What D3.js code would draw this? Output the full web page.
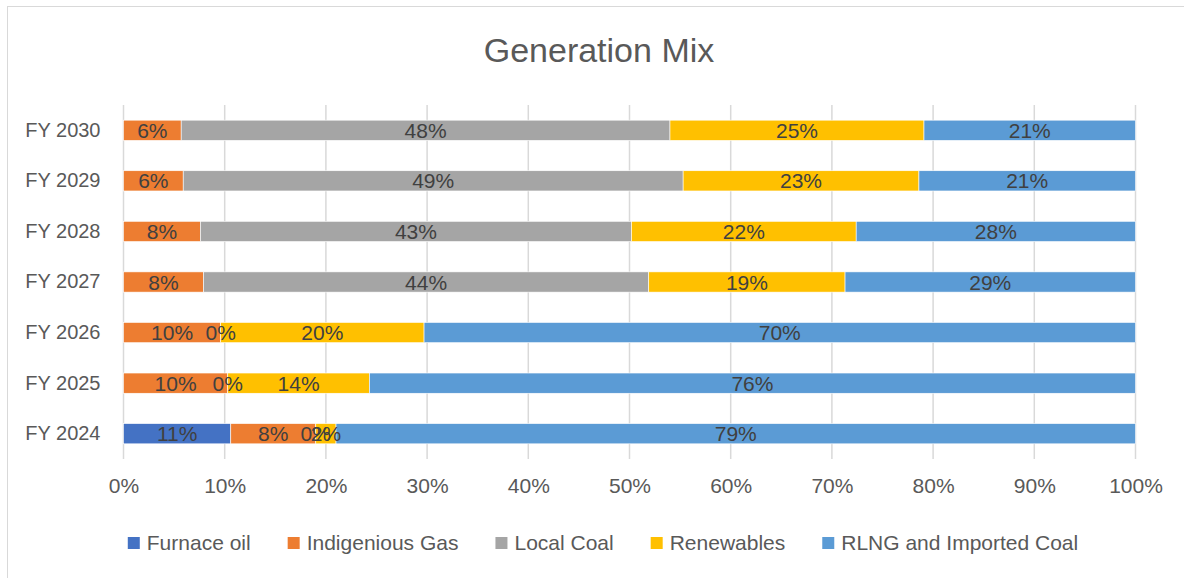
<!DOCTYPE html>
<html>
<head>
<meta charset="utf-8">
<script src="https://cdn.jsdelivr.net/npm/d3@7"></script>
<style>
  body { margin: 0; background: #fff; }
  svg { display: block; font-family: "Liberation Sans", Arial, sans-serif; }
</style>
</head>
<body>
<svg id="chart" width="1184" height="578"></svg>
<script>
// categories, bottom to top as in the picture
const years = ["FY 2024", "FY 2025", "FY 2026", "FY 2027", "FY 2028", "FY 2029", "FY 2030"];
const seriesNames = ["Furnace oil", "Indigenious Gas", "Local Coal", "Renewables", "RLNG and Imported Coal"];
const seriesColors = ["#4472C4", "#ED7D31", "#A5A5A5", "#FFC000", "#5B9BD5"];

// share of generation (%) per year
const furnaceOil     = [10.6, null, null, null, null, null, null];
const indigenousGas  = [8.4, 10.3, 9.6, 7.9, 7.6, 5.9, 5.7];
const localCoal      = [0, 0, 0, 44.0, 42.6, 49.4, 48.3];
const renewables     = [2.0, 14.0, 20.1, 19.4, 22.2, 23.3, 25.1];
const rlngImported   = [79.0, 75.7, 70.3, 28.7, 27.6, 21.4, 20.9];

const tickValues = [0, 0.1, 0.2, 0.3, 0.4, 0.5, 0.6, 0.7, 0.8, 0.9, 1];

const seriesValues = [furnaceOil, indigenousGas, localCoal, renewables, rlngImported];

const svg = d3.select("#chart");
const width = 1184, height = 578;

// chart border
svg.append("rect")
  .attr("x", 7.5).attr("y", 6.5)
  .attr("width", width).attr("height", height)
  .attr("fill", "none")
  .attr("stroke", "#d9d9d9")
  .attr("stroke-width", 1);

// title
svg.append("text")
  .attr("x", 599).attr("y", 62)
  .attr("text-anchor", "middle")
  .attr("fill", "#595959")
  .style("font-size", "34px")
  .text("Generation Mix");

// build rows: one per year, 100% stacked
const rows = years.map((y, i) => {
  const row = {year: y};
  seriesNames.forEach((s, j) => row[s] = seriesValues[j][i]);
  return row;
});

const x = d3.scaleLinear().domain([0, 1]).range([123.5, 1135.5]);
const yScale = d3.scaleBand()
  .domain(years.slice().reverse())
  .range([105, 459])
  .paddingInner(0.6)
  .paddingOuter(0.3);

// vertical gridlines
svg.append("g")
  .selectAll("line")
  .data(tickValues)
  .join("line")
    .attr("x1", d => x(d)).attr("x2", d => x(d))
    .attr("y1", 105).attr("y2", 459)
    .attr("stroke", "#d9d9d9")
    .attr("stroke-width", 1.5);

// x axis labels
const xAxis = svg.append("g")
  .attr("transform", "translate(0, 459)")
  .call(d3.axisBottom(x).tickValues(tickValues).tickFormat(d3.format(".0%")).tickSize(0).tickPadding(19));
xAxis.select(".domain").remove();
xAxis.selectAll("text")
  .attr("fill", "#595959")
  .style("font-size", "21px")
  .style("font-family", "Liberation Sans, Arial, sans-serif");

// y axis labels
const yAxis = svg.append("g")
  .attr("transform", "translate(123.5, 0)")
  .call(d3.axisLeft(yScale).tickSize(0).tickPadding(23));
yAxis.select(".domain").remove();
yAxis.selectAll("text")
  .attr("fill", "#595959")
  .style("font-size", "20px")
  .style("font-family", "Liberation Sans, Arial, sans-serif");

// stack the series
const stack = d3.stack()
  .keys(seriesNames)
  .value((d, key) => d[key] == null ? 0 : d[key] / 100);
const stacked = stack(rows);

const layers = svg.append("g")
  .selectAll("g")
  .data(stacked)
  .join("g")
    .attr("fill", (d, i) => seriesColors[i]);

layers.selectAll("rect")
  .data(d => d)
  .join("rect")
    .attr("x", d => x(d[0]))
    .attr("y", d => yScale(d.data.year))
    .attr("width", d => Math.max(0, x(d[1]) - x(d[0])))
    .attr("height", yScale.bandwidth())
    .attr("stroke", "#fff")
    .attr("stroke-width", 0.6);

// data labels
const labels = svg.append("g");
stacked.forEach(layer => {
  const key = layer.key;
  labels.selectAll(null)
    .data(layer.filter(d => d.data[key] != null))
    .join("text")
      .attr("x", d => (x(d[0]) + x(d[1])) / 2)
      .attr("y", d => yScale(d.data.year) + yScale.bandwidth() / 2)
      .attr("dy", "0.36em")
      .attr("text-anchor", "middle")
      .attr("fill", "#404040")
      .style("font-size", "21px")
      .text(d => Math.round(d.data[key]) + "%");
});

// legend
const legend = svg.append("g").attr("transform", "translate(0, 0)");
let cursor = 0;
seriesNames.forEach((name, i) => {
  const g = legend.append("g");
  g.append("rect")
    .attr("x", 0).attr("y", 537)
    .attr("width", 12).attr("height", 12)
    .attr("fill", seriesColors[i]);
  const t = g.append("text")
    .attr("x", 19).attr("y", 550)
    .attr("fill", "#595959")
    .style("font-size", "21px")
    .text(name);
  const w = 19 + t.node().getComputedTextLength();
  g.attr("transform", `translate(${cursor}, 0)`);
  cursor += w + 37;
});
const totalW = cursor - 37;
legend.attr("transform", `translate(${603 - totalW / 2}, 0)`);
</script>
</body>
</html>
